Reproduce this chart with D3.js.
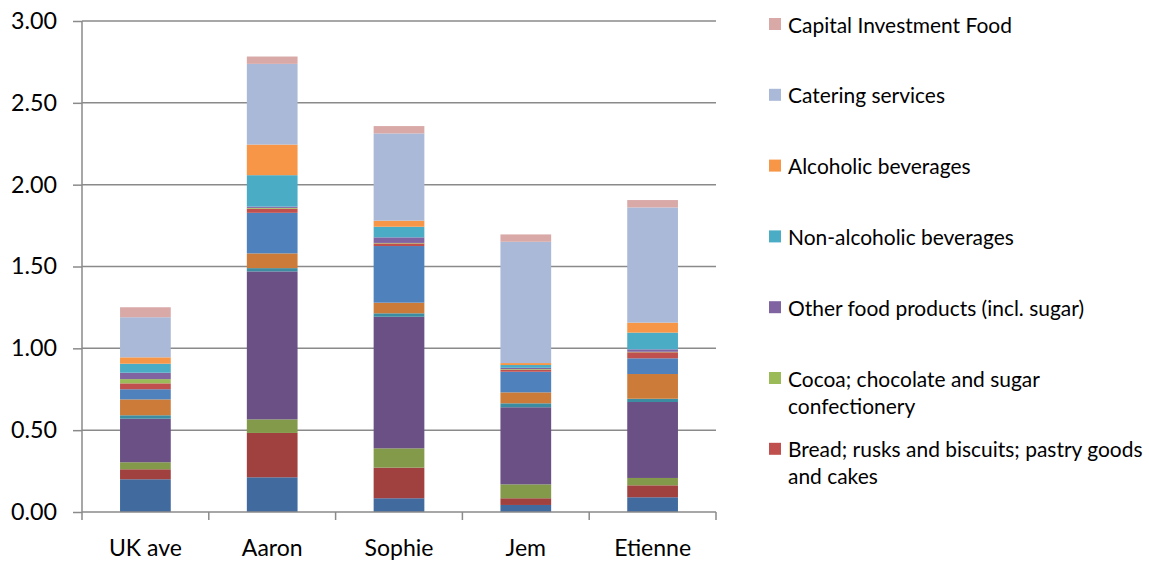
<!DOCTYPE html>
<html>
<head>
<meta charset="utf-8">
<script src="https://cdn.jsdelivr.net/npm/d3@7"></script>
<style>
  html, body { margin: 0; padding: 0; background: #fff; }
  svg { display: block; }
</style>
</head>
<body>
<svg id="chart" width="1149" height="561"></svg>
<script>
// Food spending per person, stacked by category (bottom to top)
const categories = ["UK ave", "Aaron", "Sophie", "Jem", "Etienne"];

const seriesNames = [
  "Cereals and cereal products",
  "Meat",
  "Fish and seafood",
  "Milk; cheese and eggs",
  "Oils and fats",
  "Fruit and vegetables",
  "Potatoes and tubers",
  "Bread; rusks and biscuits; pastry goods and cakes",
  "Cocoa; chocolate and sugar confectionery",
  "Other food products (incl. sugar)",
  "Non-alcoholic beverages",
  "Alcoholic beverages",
  "Catering services",
  "Capital Investment Food"
];

const cereals      = [0.200, 0.212, 0.084, 0.043, 0.090];
const meat         = [0.061, 0.271, 0.187, 0.041, 0.073];
const fish         = [0.043, 0.083, 0.118, 0.085, 0.045];
const dairy        = [0.266, 0.904, 0.804, 0.471, 0.464];
const oils         = [0.021, 0.020, 0.021, 0.024, 0.020];
const fruitVeg     = [0.097, 0.090, 0.065, 0.067, 0.151];
const potatoes     = [0.062, 0.248, 0.346, 0.126, 0.096];
const bread        = [0.036, 0.025, 0.016, 0.012, 0.037];
const cocoa        = [0.026, 0.005, 0.003, 0.004, 0.003];
const otherFood    = [0.039, 0.008, 0.034, 0.008, 0.015];
const nonAlcoholic = [0.055, 0.192, 0.065, 0.017, 0.102];
const alcoholic    = [0.039, 0.187, 0.037, 0.012, 0.061];
const catering     = [0.245, 0.493, 0.533, 0.741, 0.704];
const capital      = [0.061, 0.045, 0.045, 0.045, 0.045];

const seriesValues = [cereals, meat, fish, dairy, oils, fruitVeg, potatoes,
  bread, cocoa, otherFood, nonAlcoholic, alcoholic, catering, capital];

const yTicks = [0, 0.5, 1.0, 1.5, 2.0, 2.5, 3.0];

// Legend shows the top seven series, top entry first, with fixed line breaks
const legendSeries = [13, 12, 11, 10, 9, 8, 7];
const legendLines = [
  ["Capital Investment Food"],
  ["Catering services"],
  ["Alcoholic beverages"],
  ["Non-alcoholic beverages"],
  ["Other food products (incl. sugar)"],
  ["Cocoa; chocolate and sugar", "confectionery"],
  ["Bread; rusks and biscuits; pastry goods", "and cakes"]
];

// ---- styling ----
const colors = [
  "#416A9F", "#A0413F", "#839A4B", "#6A5085", "#3C8DA2", "#CC7B38", "#4F81BD",
  "#C0504D", "#9BBB59", "#8064A2", "#4BACC6", "#F79646", "#AAB9D7", "#D9A9A8"
];
const FONT = "Lato, 'Open Sans', sans-serif";
const GRID = "#8a8a8a";

const svg = d3.select("#chart");
const margin = { left: 82, right: 433, top: 21, bottom: 49 };
const W = 1149, H = 561;
const plotL = margin.left, plotR = W - margin.right;
const plotT = margin.top, plotB = H - margin.bottom;

// font size that makes a sample string span a given width
function fitSize(sample, target) {
  const t = svg.append("text").attr("font-family", FONT).attr("font-size", 100).text(sample);
  const w = t.node().getComputedTextLength();
  t.remove();
  return 100 * target / w;
}
const axisFont = fitSize("UK ave", 73);
const yFont = fitSize("3.00", 46);
const legendFont = fitSize("Capital Investment Food", 224);

const x = d3.scaleBand().domain(categories).range([plotL, plotR])
  .paddingInner(0.6).paddingOuter(0.3);
const y = d3.scaleLinear().domain([0, 3]).range([plotB, plotT]);

// stacked layout
const rows = categories.map((c, i) => {
  const r = { category: c };
  seriesValues.forEach((vals, s) => { r["s" + s] = vals[i]; });
  return r;
});
const keys = seriesValues.map((_, s) => "s" + s);
const stacked = d3.stack().keys(keys)(rows);

// gridlines
svg.append("g").selectAll("line").data(yTicks.filter(d => d > 0)).join("line")
  .attr("x1", plotL).attr("x2", plotR)
  .attr("y1", d => y(d)).attr("y2", d => y(d))
  .attr("stroke", GRID).attr("stroke-width", 1.5);

// bars
svg.append("g").selectAll("g").data(stacked).join("g")
  .attr("fill", (d, i) => colors[i])
  .selectAll("rect").data(d => d).join("rect")
  .attr("x", d => x(d.data.category))
  .attr("width", x.bandwidth())
  .attr("y", d => y(d[1]))
  .attr("height", d => Math.max(0, y(d[0]) - y(d[1])));

// y axis
const yAxis = svg.append("g").attr("transform", `translate(${plotL},0)`)
  .call(d3.axisLeft(y).tickValues(yTicks).tickFormat(d3.format(".2f")).tickSize(9).tickPadding(16));
yAxis.select(".domain").attr("stroke", GRID).attr("stroke-width", 1.5)
  .attr("d", `M0,${plotT}V${plotB}`);
yAxis.selectAll(".tick line").attr("stroke", GRID).attr("stroke-width", 1.5);
yAxis.selectAll(".tick text").attr("font-family", FONT).attr("font-size", yFont)
  .attr("fill", "#000");

// x axis: labels centred on bars, ticks at category boundaries
const xAxis = svg.append("g").attr("transform", `translate(0,${plotB})`)
  .call(d3.axisBottom(x).tickSize(0).tickPadding(28));
xAxis.select(".domain").attr("stroke", GRID).attr("stroke-width", 1.5)
  .attr("d", `M${plotL},0H${plotR}`);
xAxis.selectAll(".tick text").attr("font-family", FONT).attr("font-size", axisFont)
  .attr("fill", "#000");
const bounds = d3.range(categories.length + 1).map(i => plotL + i * (plotR - plotL) / categories.length);
xAxis.append("g").selectAll("line").data(bounds).join("line")
  .attr("x1", d => d).attr("x2", d => d).attr("y1", 0).attr("y2", 8)
  .attr("stroke", GRID).attr("stroke-width", 1.5);

// legend
const legend = svg.append("g");
const rowGap = 70.8, lineGap = 27;
legendSeries.forEach((s, k) => {
  const cy = 24 + k * rowGap;
  legend.append("rect").attr("x", 769).attr("y", cy - 6).attr("width", 12).attr("height", 12)
    .attr("fill", colors[s]);
  const t = legend.append("text").attr("font-family", FONT).attr("font-size", legendFont)
    .attr("fill", "#000");
  legendLines[k].forEach((line, j) => {
    t.append("tspan").attr("x", 788).attr("y", cy + j * lineGap)
      .attr("dominant-baseline", "central").text(line);
  });
});
</script>
</body>
</html>
